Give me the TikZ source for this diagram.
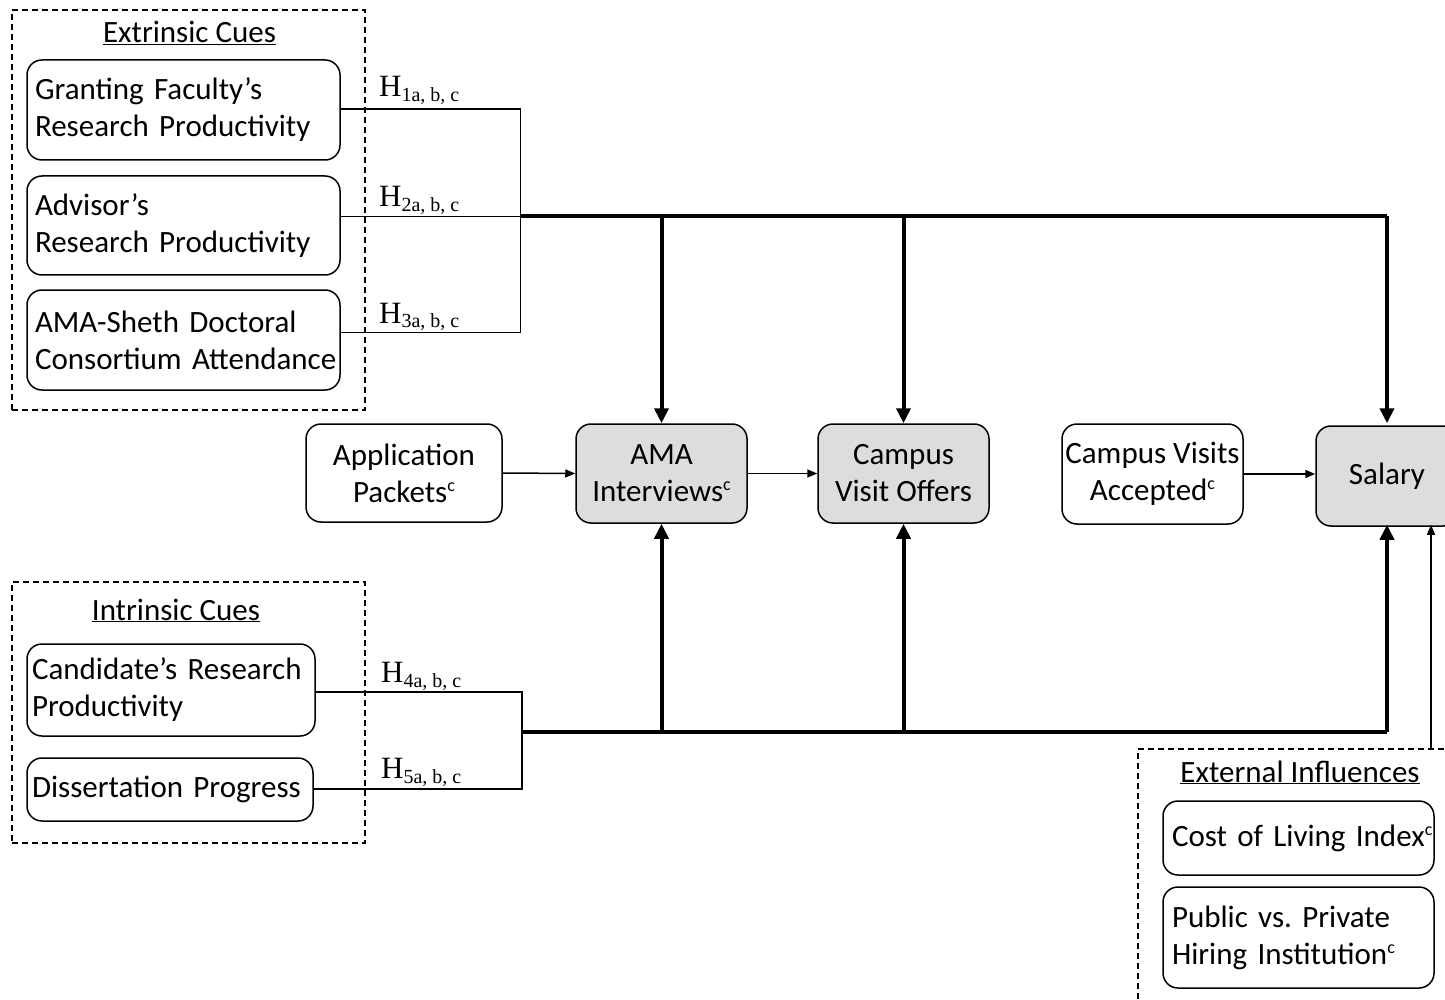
\documentclass[tikz,border=0pt]{standalone}
\usepackage{fontspec}
\setmainfont{Carlito}
\newfontfamily\hfont{Liberation Serif}
\usetikzlibrary{arrows.meta}
\definecolor{boxgray}{RGB}{221,221,221}
\frenchspacing
\newcommand{\hlab}[1]{{\hfont\fontsize{31}{31}\selectfont H\raisebox{-5pt}{\fontsize{20}{20}\selectfont #1}}}
\newcommand{\supc}{\raisebox{11pt}{\fontsize{18}{18}\selectfont c}}
\begin{document}
\begin{tikzpicture}[x=1pt,y=-1pt,
  box/.style={draw, line width=1.5pt, rounded corners=15pt, inner ysep=0pt,
    font=\fontsize{31}{37}\selectfont},
  lbox/.style={box, align=left},
  cbox/.style={box, align=center, inner xsep=2pt},
  gbox/.style={cbox, fill=boxgray},
  group/.style={draw, line width=1.2pt, dash pattern=on 6pt off 4pt, inner sep=0pt},
  title/.style={font=\fontsize{31}{37}\selectfont, inner sep=0pt, anchor=base},
  hl/.style={anchor=base west, inner sep=0pt},
  thinline/.style={line width=1.5pt},
  thinarrow/.style={line width=1.5pt, -{Triangle[length=10pt,width=8pt]}},
  thickline/.style={line width=4pt, line join=miter},
  thickarrow/.style={line width=4pt, -{Triangle[length=15pt,width=14pt]}}
]
\useasboundingbox (0,0) rectangle (1445,1000);

% group frames
\node[group, minimum width=353pt, minimum height=400pt] (extr) at (188.5,210) {};
\node[group, minimum width=353pt, minimum height=261pt] (intr) at (188.5,712.5) {};
\node[group, minimum width=322pt, minimum height=262pt] (exin) at (1299,880) {};

\node[title] (extrt) at (189.5,43) {\underline{Extrinsic Cues}};
\node[title] (intrt) at (176,620) {\underline{Intrinsic Cues}};
\node[title] (exint) at (1300,782) {\underline{External Influences}};

% extrinsic boxes
\node[lbox, minimum width=313pt, minimum height=100pt, text width=297pt, inner xsep=8pt] (b1) at (183.5,110) {\mbox{Granting Faculty’s}\\\mbox{Research Productivity}};
\node[lbox, minimum width=313pt, minimum height=99pt, text width=297pt, inner xsep=8pt] (b2) at (183.5,225.5) {\mbox{Advisor’s}\\\mbox{Research Productivity}};
\node[lbox, minimum width=313pt, minimum height=100pt, text width=297pt, inner xsep=8pt] (b3) at (183.5,340) {\mbox{AMA-Sheth Doctoral}\\\mbox{Consortium Attendance}};

% intrinsic boxes
\node[lbox, minimum width=288pt, minimum height=92pt, text width=278pt, inner xsep=5pt] (cand) at (171,690) {\mbox{Candidate’s Research}\\\mbox{Productivity}};
\node[lbox, minimum width=286pt, minimum height=63pt, text width=276pt, inner xsep=5pt] (diss) at (170,789.5) {\mbox{Dissertation Progress}};

% external boxes
\node[lbox, minimum width=271pt, minimum height=74pt, text width=253pt, inner xsep=9pt] (cost) at (1298.5,838) {\mbox{Cost of Living Index\supc}};
\node[lbox, minimum width=271pt, minimum height=101pt, text width=253pt, inner xsep=9pt] (pub) at (1298.5,937.5) {\mbox{Public vs. Private}\\\mbox{Hiring Institution\supc}};

% middle row
\node[cbox, minimum width=196pt, minimum height=98pt] (app) at (404,473) {Application\\Packets\supc};
\node[gbox, minimum width=171pt, minimum height=99pt] (ama) at (661.5,473.5) {AMA\\Interviews\supc};
\node[gbox, minimum width=171pt, minimum height=99pt] (cvo) at (903.5,473.5) {Campus\\Visit Offers};
\node[cbox, minimum width=181pt, minimum height=100pt] (cva) at (1152.5,474) {Campus Visits\\Accepted\supc};
\node[gbox, minimum width=142pt, minimum height=100pt] (sal) at (1387,476) {Salary};

% hypothesis labels
\node[hl] (h1) at (379,97) {\hlab{1a, b, c}};
\node[hl] (h2) at (379,207) {\hlab{2a, b, c}};
\node[hl] (h3) at (379,323) {\hlab{3a, b, c}};
\node[hl] (h4) at (381,682) {\hlab{4a, b, c}};
\node[hl] (h5) at (381,778) {\hlab{5a, b, c}};

% helper coordinates
\coordinate (y1) at (0,109);
\coordinate (y2) at (0,216.5);
\coordinate (y3) at (0,332.5);
\coordinate (jx) at (520.5,0);
\coordinate (y4) at (0,692);
\coordinate (y5) at (0,789);
\coordinate (y6) at (0,731.5);
\coordinate (jx2) at (522,0);
\coordinate (tx) at (1431,0);
\coordinate (ymid) at (0,474);

% top connectors
\draw[thinline] (b1.east |- y1) -| (jx |- y3) -- (b3.east |- y3);
\draw[thinline] (b2.east |- y2) -- (jx |- y2);
\draw[thickline] (jx |- y2) -| (sal.north |- y2);
\draw[thickarrow] (sal.north |- y2) -- ([yshift=2pt]sal.north);
\draw[thickarrow] (ama.north |- y2) -- (ama.north);
\draw[thickarrow] (cvo.north |- y2) -- (cvo.north);

% bottom connectors
\draw[thinline] (cand.east |- y4) -| (jx2 |- y5) -- (diss.east |- y5);
\draw[thickline] (jx2 |- y6) -| (sal.south |- y6);
\draw[thickarrow] (sal.south |- y6) -- ([yshift=2pt]sal.south);
\draw[thickarrow] (ama.south |- y6) -- (ama.south);
\draw[thickarrow] (cvo.south |- y6) -- (cvo.south);

% row arrows
\draw[thinarrow] (app.east) -- (ama.west);
\draw[thinarrow] (ama.east) -- (cvo.west);
\draw[thinarrow] (cva.east |- ymid) -- (sal.west |- ymid);

% external influences
\draw[thinarrow] (exin.north -| tx) -- ([yshift=2pt]sal.south -| tx);
\end{tikzpicture}
\end{document}
